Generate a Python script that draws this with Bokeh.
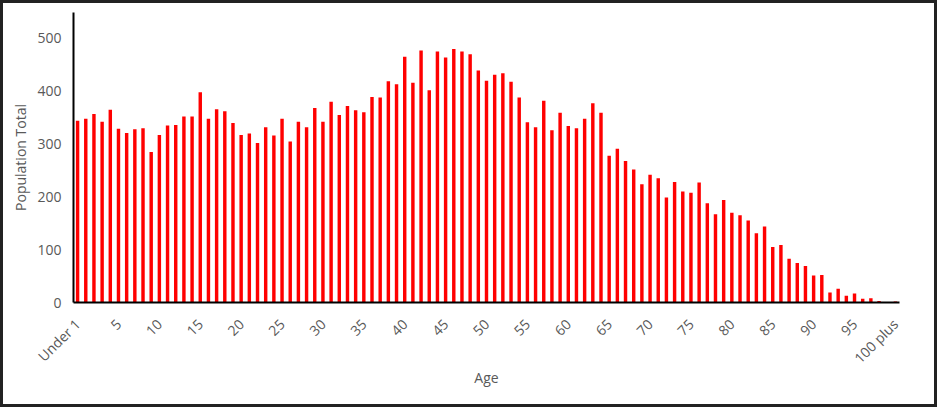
from bokeh.plotting import figure
from bokeh.models import FixedTicker, Range1d
from bokeh.embed import file_html
from bokeh.resources import INLINE

# Data
age_labels = ["Under 1"] + [str(i) for i in range(1, 100)] + ["100 plus"]
population = [344, 348, 357, 342, 365, 329, 321, 328, 330, 285,
              317, 335, 336, 352, 352, 398, 348, 366, 362, 340,
              317, 320, 302, 332, 316, 348, 305, 342, 332, 368,
              342, 380, 355, 372, 364, 360, 389, 388, 419, 413,
              465, 416, 477, 402, 475, 464, 480, 475, 470, 439,
              420, 431, 434, 418, 388, 341, 332, 382, 326, 359,
              334, 330, 348, 377, 359, 278, 291, 268, 252, 224,
              242, 235, 199, 228, 210, 208, 227, 188, 167, 194,
              170, 165, 155, 131, 144, 105, 109, 83, 75, 69,
              51, 52, 19, 26, 13, 17, 7, 8, 3, 0,
              2]
y_ticks = [0, 100, 200, 300, 400, 500]
x_tick_idx = list(range(0, 101, 5))

xs = list(range(len(age_labels)))

FONT = "Open Sans"
GRAY = "#595959"

p = figure(width=937, height=407, output_backend="svg", toolbar_location=None,
           x_range=Range1d(-0.5, len(age_labels) - 0.5), y_range=Range1d(0, 549),
           min_border_left=70, min_border_right=41, min_border_top=9, min_border_bottom=108)
p.styles = {"border": "3px solid #222222"}
p.outline_line_color = None
p.background_fill_color = "white"
p.border_fill_color = "white"

p.vbar(x=xs, top=population, width=0.42, fill_color="#ff0000", line_color=None)

p.xgrid.visible = False
p.ygrid.visible = False

# X axis
p.xaxis.ticker = FixedTicker(ticks=x_tick_idx)
p.xaxis.major_label_overrides = {i: age_labels[i] for i in x_tick_idx}
p.xaxis.major_label_orientation = 0.7854
p.xaxis.axis_label = "Age"
p.xaxis.major_tick_out = 0
p.xaxis.major_tick_in = 0
p.xaxis.minor_tick_out = 0
p.xaxis.minor_tick_in = 0
p.xaxis.axis_line_color = "black"
p.xaxis.axis_line_width = 2
p.xaxis.major_label_standoff = 19
p.xaxis.axis_label_standoff = -9

# Y axis
p.yaxis.ticker = FixedTicker(ticks=y_ticks)
p.yaxis.axis_label = "Population Total"
p.yaxis.major_tick_out = 0
p.yaxis.major_tick_in = 0
p.yaxis.minor_tick_out = 0
p.yaxis.minor_tick_in = 0
p.yaxis.axis_line_color = "black"
p.yaxis.axis_line_width = 2
p.yaxis.major_label_standoff = 12
p.yaxis.axis_label_standoff = 4

for ax in (p.xaxis, p.yaxis):
    ax.major_label_text_font = FONT
    ax.major_label_text_font_size = "14px"
    ax.major_label_text_color = GRAY
    ax.axis_label_text_font = FONT
    ax.axis_label_text_font_size = "14px"
    ax.axis_label_text_font_style = "normal"
    ax.axis_label_text_color = GRAY

open("out.html", "w").write(file_html(p, INLINE))
